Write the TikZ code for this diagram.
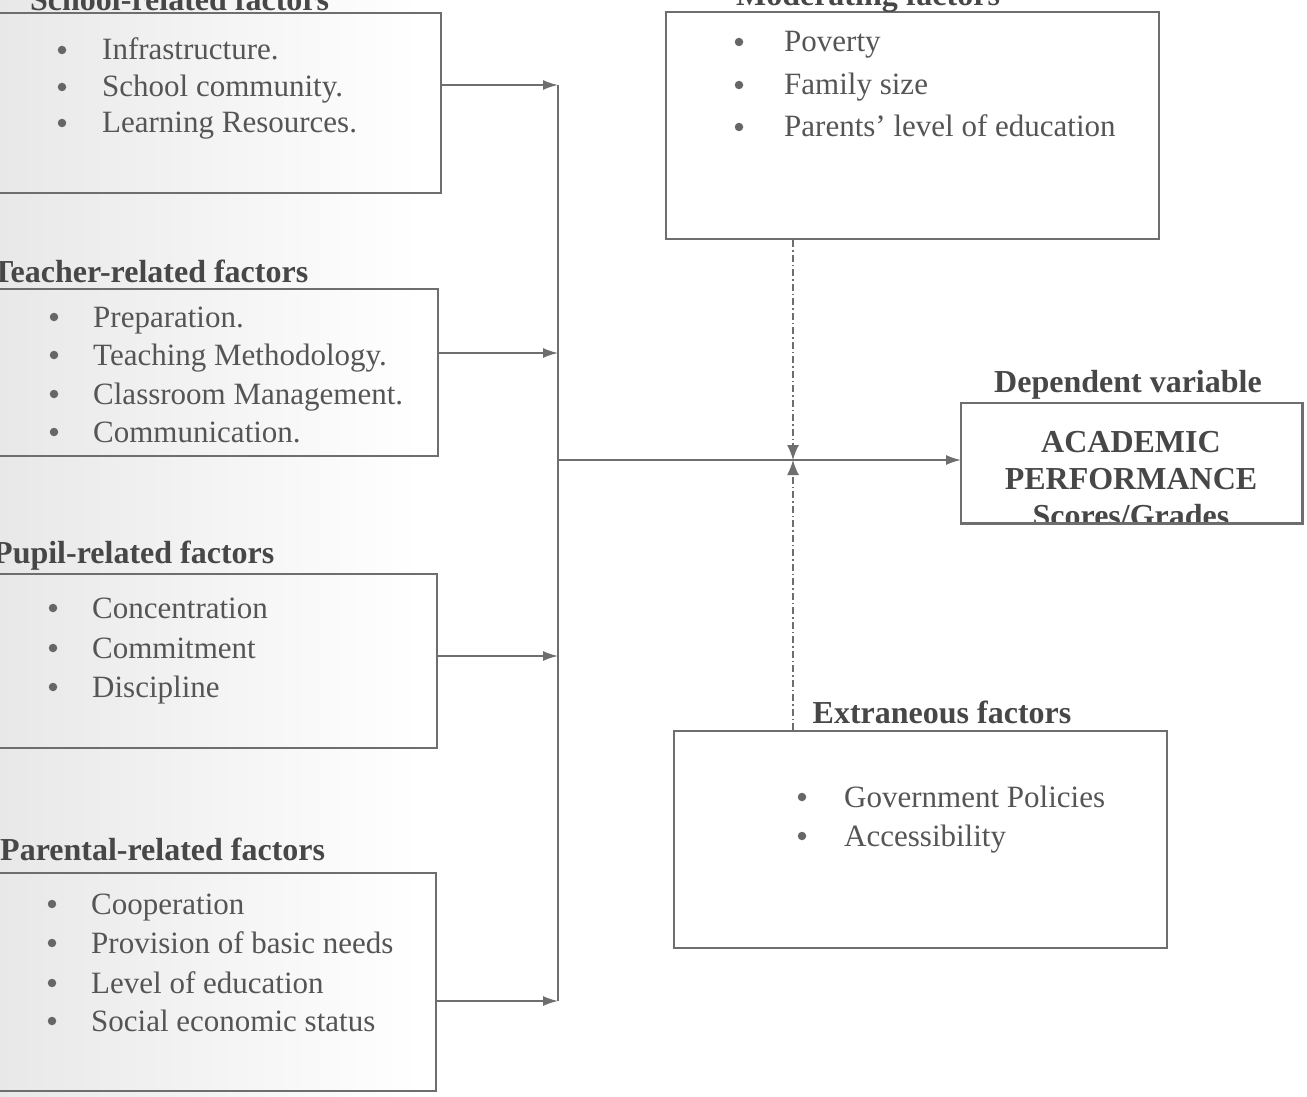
\documentclass[tikz,border=0pt]{standalone}
\usepackage{fontspec}
\setmainfont{Liberation Serif}
\usetikzlibrary{arrows.meta}
\definecolor{ink}{HTML}{555555}
\definecolor{headc}{HTML}{474747}
\definecolor{lin}{HTML}{6E6E6E}
\begin{document}
\begin{tikzpicture}[x=1pt,y=-1pt,
  box/.style={draw=lin, line width=2.4pt, inner sep=0, anchor=north west},
  plainbox/.style={inner sep=0, anchor=north west},
  item/.style={anchor=base west, inner sep=0, text=ink, font=\fontsize{31}{38}\selectfont},
  bul/.style={circle, fill=ink!90, inner sep=0, minimum size=8.5pt},
  headl/.style={anchor=base west, inner sep=0, text=headc, font=\bfseries\fontsize{32}{38}\selectfont},
  headc/.style={headl, anchor=base},
  deptext/.style={anchor=base, inner sep=0, text=headc, font=\bfseries\fontsize{32}{38}\selectfont},
  conn/.style={draw=lin, line width=1.6pt},
  arr/.style={conn, -{Latex[length=15pt,width=10pt]}},
  dd/.style={draw=lin, line width=1.4pt, dash pattern=on 7pt off 3pt on 1.5pt off 3pt, -{Latex[length=15pt,width=12pt]}},
]
\useasboundingbox (0,0) rectangle (1307,1097);
\clip (0,0) rectangle (1307,1097);
\shade[left color=black!9, right color=white] (0,0) rectangle (420,1097);

% boxes
\node[box, minimum width=450, minimum height=180] (school) at (-10,12) {};
\node[box, minimum width=447, minimum height=167] (teacher) at (-10,288) {};
\node[box, minimum width=446, minimum height=174] (pupil) at (-10,573) {};
\node[box, minimum width=445, minimum height=218] (parent) at (-10,872) {};
\node[box, minimum width=493, minimum height=227] (mod) at (665,11) {};
\node[box, minimum width=493, minimum height=217] (ext) at (673,730) {};
\node[plainbox, minimum width=341, minimum height=120] (dep) at (961,403) {};

% titles
\node[headl] (tschool) at (30,11) {School-related factors};
\node[headl] (tteach) at (-8,282) {Teacher-related factors};
\node[headl] (tpupil) at (-7,563) {Pupil-related factors};
\node[headl] (tparent) at (0,860) {Parental-related factors};
\node[headc] (tmod) at (868,6) {Moderating factors};
\node[headc] (text) at (942,723) {Extraneous factors};
\node[headc] (tdep) at (1128,392) {Dependent variable};

% items
\foreach \t/\b [count=\i] in {Infrastructure./60,School community./97,Learning Resources./133}{
  \node[bul] (sb\i) at (62,\b-10) {};
  \node[item] (s\i) at (102,\b) {\t};
}
\foreach \t/\b [count=\i] in {Preparation./327,Teaching Methodology./365,Classroom Management./404,Communication./442}{
  \node[bul] (tb\i) at (54,\b-10) {};
  \node[item] (t\i) at (93,\b) {\t};
}
\foreach \t/\b [count=\i] in {Concentration/618,Commitment/658,Discipline/697}{
  \node[bul] (pb\i) at (53,\b-10) {};
  \node[item] (p\i) at (92,\b) {\t};
}
\foreach \t/\b [count=\i] in {Cooperation/914,Provision of basic needs/953,Level of education/993,Social economic status/1031}{
  \node[bul] (qb\i) at (52,\b-10) {};
  \node[item] (q\i) at (91,\b) {\t};
}
\foreach \t/\b [count=\i] in {Poverty/52,Family size/95,Parents’ level of education/137}{
  \node[bul] (mb\i) at (739,\b-10) {};
  \node[item] (m\i) at (784,\b) {\t};
}
\foreach \t/\b [count=\i] in {Government Policies/807,Accessibility/846}{
  \node[bul] (eb\i) at (802,\b-10) {};
  \node[item] (e\i) at (844,\b) {\t};
}

% dependent box text (cut by the frame)
\begin{scope}
  \clip (dep.north west) rectangle (dep.south east);
  \node[deptext] (d1) at (1131,452) {ACADEMIC};
  \node[deptext] (d2) at (1131,489) {PERFORMANCE};
  \node[deptext] (d3) at (1131,526) {Scores/Grades};
\end{scope}
\draw[draw=lin, line width=2.8pt] (dep.north west) rectangle (dep.south east);

% connectors
\coordinate (j1) at (558,85);
\coordinate (j2) at (558,353);
\coordinate (j3) at (558,656);
\coordinate (j4) at (558,1001);
\coordinate (jm) at (558,460);
\coordinate (jx) at (793,460);
\draw[conn] (j1) -- (j4);
\draw[arr] (school.east |- j1) -- (j1);
\draw[arr] (teacher.east |- j2) -- (j2);
\draw[arr] (pupil.east |- j3) -- (j3);
\draw[arr] (parent.east |- j4) -- (j4);
\draw[arr] (jm) -- (dep.west |- jm);
\draw[dd] (jx |- mod.south) -- (jx);
\draw[dd] (jx |- ext.north) -- (jx);
\end{tikzpicture}
\end{document}
